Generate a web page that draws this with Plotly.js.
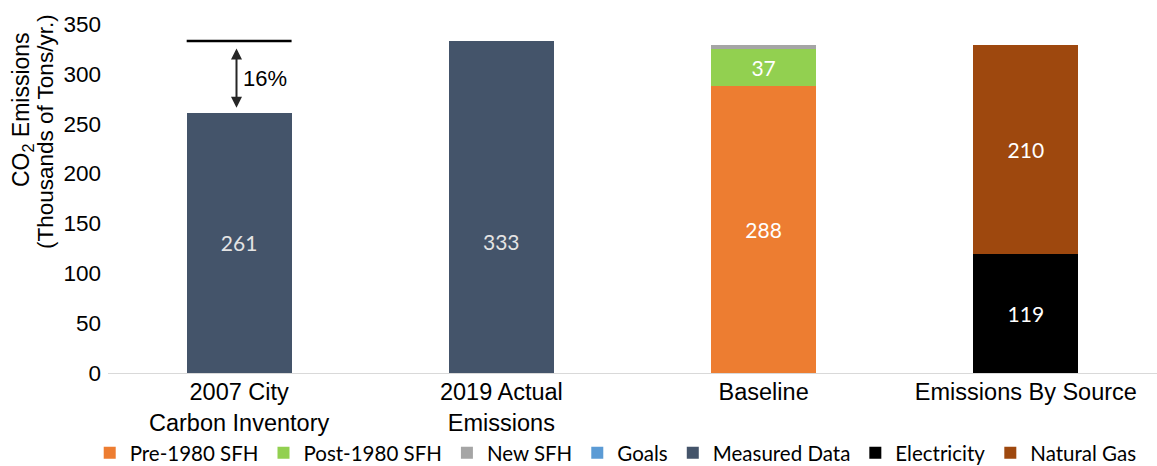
<!DOCTYPE html>
<html>
<head>
<meta charset="utf-8">
<script src="https://cdn.plot.ly/plotly-3.0.1.min.js"></script>
<style>
  html, body { margin: 0; padding: 0; background: #ffffff; }
  #chart { width: 1157px; height: 466px; }
</style>
</head>
<body>
<div id="chart"></div>
<script>
// Categories along the x axis
const categories = [
  "2007 City<br>Carbon Inventory",
  "2019 Actual<br>Emissions",
  "Baseline",
  "Emissions By Source"
];

// Series values (thousands of tons CO2 per year)
const pre1980SFH   = [null, null, 288, null];
const post1980SFH  = [null, null, 37, null];
const newSFH       = [null, null, 4, null];
const goals        = [null, null, null, null];
const measuredData = [261, 333, null, null];
const electricity  = [null, null, null, 119];
const naturalGas   = [null, null, null, 210];

// Text of the gap marker between the inventory and the 2019 actual value
const gapLabel = "16%";

// Axis title lines
const yTitleLine1 = "CO<sub>2</sub> Emissions";
const yTitleLine2 = "(Thousands of Tons/yr.)";

const yTicks = [0, 50, 100, 150, 200, 250, 300, 350];

const axisFontFamily = "'Liberation Sans', Arial, sans-serif";
const labelFamily = "Lato, 'Open Sans', sans-serif";

function labelsOf(values) {
  return values.map(v => (v === null ? "" : String(v)));
}

function barTrace(name, values, color, labels, labelColor) {
  return {
    type: "bar",
    name: name,
    x: categories,
    y: values,
    marker: { color: color },
    text: labels || undefined,
    textposition: labels ? "inside" : "none",
    insidetextanchor: "middle",
    textfont: { family: labelFamily, size: 21, color: labelColor || "#ffffff" },
    hoverinfo: "name+y"
  };
}

// The 2019 bar carries its value label lower down, drawn as an annotation below
const measuredLabels = labelsOf(measuredData).map((t, i) => (i === 1 ? "" : t));

const traces = [
  barTrace("Pre-1980 SFH", pre1980SFH, "#ED7D31", labelsOf(pre1980SFH)),
  barTrace("Post-1980 SFH", post1980SFH, "#92D050", labelsOf(post1980SFH)),
  barTrace("New SFH", newSFH, "#A5A5A5", null),
  barTrace("Goals", goals, "#5B9BD5", null),
  barTrace("Measured Data", measuredData, "#44546A", measuredLabels, "#e4e4e4"),
  barTrace("Electricity", electricity, "#000000", labelsOf(electricity)),
  barTrace("Natural Gas", naturalGas, "#9E480E", labelsOf(naturalGas))
];

const barWidthFrac = 0.4;

const layout = {
  width: 1157,
  height: 466,
  margin: { l: 108, r: 0, t: 24, b: 93 },
  paper_bgcolor: "#ffffff",
  plot_bgcolor: "#ffffff",
  barmode: "stack",
  bargap: 1 - barWidthFrac,
  font: { family: axisFontFamily, size: 22, color: "#000000" },
  xaxis: {
    type: "category",
    showgrid: false,
    showline: true,
    linecolor: "#d9d9d9",
    linewidth: 1,
    ticks: "",
    ticklabelstandoff: -2,
    tickfont: { family: axisFontFamily, size: 23.5, color: "#000000" },
    fixedrange: true
  },
  yaxis: {
    range: [0, 350],
    tickvals: yTicks,
    showgrid: false,
    zeroline: false,
    showline: false,
    ticks: "",
    ticklabelstandoff: 6,
    tickfont: { family: axisFontFamily, size: 22.5, color: "#000000" },
    fixedrange: true
  },
  showlegend: true,
  legend: {
    orientation: "h",
    bgcolor: "rgba(0,0,0,0)",
    xref: "paper",
    x: 0.484,
    xanchor: "center",
    yref: "container",
    y: 0.028,
    yanchor: "middle",
    traceorder: "normal",
    itemwidth: 30,
    font: { family: labelFamily, size: 20.5, color: "#000000" }
  },
  shapes: [
    {
      type: "line",
      xref: "x",
      yref: "y",
      x0: -barWidthFrac / 2,
      x1: barWidthFrac / 2,
      y0: measuredData[1],
      y1: measuredData[1],
      line: { color: "#000000", width: 2.5 }
    }
  ],
  annotations: [
    {
      xref: "x",
      yref: "y",
      axref: "x",
      ayref: "y",
      x: -0.01,
      y: measuredData[0],
      ax: -0.01,
      ay: measuredData[1],
      text: "",
      showarrow: true,
      arrowhead: 2,
      startarrowhead: 2,
      arrowside: "end+start",
      arrowsize: 1.1,
      arrowwidth: 2,
      arrowcolor: "#262626",
      standoff: 5,
      startstandoff: 6
    },
    {
      xref: "x",
      yref: "y",
      x: 0.1,
      y: 295,
      text: gapLabel,
      showarrow: false,
      font: { family: axisFontFamily, size: 22, color: "#000000" }
    },
    {
      xref: "x",
      yref: "y",
      x: 1,
      y: 132,
      text: String(measuredData[1]),
      showarrow: false,
      font: { family: labelFamily, size: 21, color: "#e4e4e4" }
    },
    {
      xref: "paper",
      yref: "paper",
      x: -0.081,
      y: 0.7536,
      xanchor: "center",
      yanchor: "middle",
      textangle: -90,
      text: yTitleLine1,
      showarrow: false,
      font: { family: axisFontFamily, size: 23, color: "#000000" }
    },
    {
      xref: "paper",
      yref: "paper",
      x: -0.060,
      y: 0.6905,
      xanchor: "center",
      yanchor: "middle",
      textangle: -90,
      text: yTitleLine2,
      showarrow: false,
      font: { family: axisFontFamily, size: 22.5, color: "#000000" }
    }
  ]
};

Plotly.newPlot("chart", traces, layout, { displayModeBar: false, staticPlot: true });
</script>
</body>
</html>
